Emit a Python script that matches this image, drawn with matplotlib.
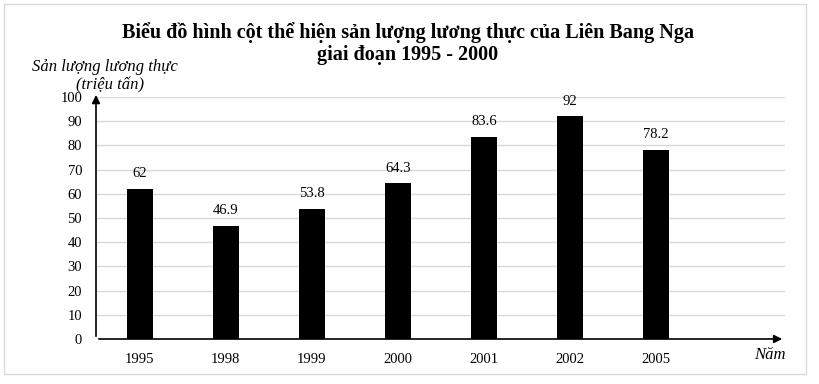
import numpy as np
import matplotlib.pyplot as plt
from matplotlib.patches import Rectangle

years = ["1995", "1998", "1999", "2000", "2001", "2002", "2005"]
values = [62, 46.9, 53.8, 64.3, 83.6, 92, 78.2]
labels = ["62", "46.9", "53.8", "64.3", "83.6", "92", "78.2"]

plt.rcParams["font.family"] = ["Liberation Serif", "DejaVu Serif"]

fig = plt.figure(figsize=(8.19, 3.84), dpi=100)
fig.patches.append(Rectangle((4 / 819, 1 - 374 / 384), 802 / 819, 370 / 384,
                             transform=fig.transFigure, fill=False,
                             edgecolor="#d9d9d9", linewidth=1))

ax = fig.add_axes([96 / 819, 1 - 339 / 384, (785 - 96) / 819, (339 - 97) / 384])
x = np.arange(len(years))
ax.bar(x, values, width=0.31, color="black", zorder=3)

for xi, v, t in zip(x, values, labels):
    ax.text(xi, v + 6.2, t, ha="center", va="center", fontsize=10.5)

ax.set_xlim(-0.51, 7.5)
ax.set_ylim(0, 100)
ax.set_yticks(np.arange(0, 101, 10))
ax.set_xticks(x)
ax.set_xticklabels(years, fontsize=10.5)
ax.tick_params(axis="y", labelsize=10.5, length=0, pad=10)
ax.tick_params(axis="x", length=0, pad=10)
ax.yaxis.grid(True, color="#d9d9d9", linewidth=1, zorder=0)
for s in ax.spines.values():
    s.set_visible(False)

# axes with arrows
ax.annotate("", xy=(-0.51, 102), xytext=(-0.51, 0), annotation_clip=False,
            arrowprops=dict(arrowstyle="-|>", color="black", lw=1.2, mutation_scale=12))
ax.annotate("", xy=(7.5, 0), xytext=(-0.51, 0), annotation_clip=False,
            arrowprops=dict(arrowstyle="-|>", color="black", lw=1.2, mutation_scale=12))

fig.text(408 / 819, 1 - 33 / 384, "Biểu đồ hình cột thể hiện sản lượng lương thực của Liên Bang Nga",
         ha="center", va="center", fontsize=14.5, fontweight="bold")
fig.text(408 / 819, 1 - 55 / 384, "giai đoạn 1995 - 2000",
         ha="center", va="center", fontsize=14.5, fontweight="bold")
fig.text(105 / 819, 1 - 67 / 384, "Sản lượng lương thực", ha="center", va="center",
         fontsize=12, style="italic")
fig.text(110 / 819, 1 - 85 / 384, "(triệu tấn)", ha="center", va="center",
         fontsize=12, style="italic")
fig.text(770 / 819, 1 - 355 / 384, "Năm", ha="center", va="center",
         fontsize=12, style="italic")

fig.savefig("out.png", dpi=100)
